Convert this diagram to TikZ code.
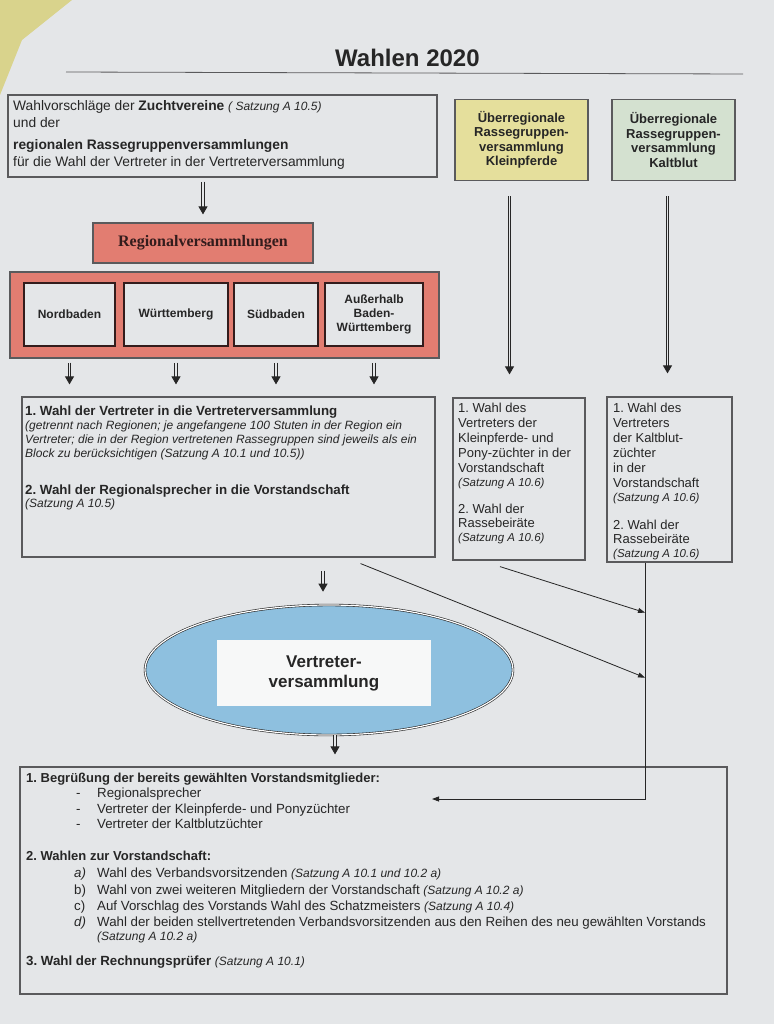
\documentclass[tikz,border=0pt]{standalone}
\usepackage{fontspec}
\setmainfont{Liberation Sans}
\newfontfamily\serifbold{Liberation Serif}
\usetikzlibrary{shapes.geometric,arrows.meta}
\frenchspacing

\definecolor{paper}{HTML}{E4E6E8}
\definecolor{tablecloth}{HTML}{D9D38C}
\definecolor{frame}{HTML}{5A5A5C}
\definecolor{ink}{HTML}{262626}
\definecolor{salmon}{HTML}{E27D71}
\definecolor{maroon}{HTML}{331C1C}
\definecolor{ponyyellow}{HTML}{E5DF9C}
\definecolor{coldgreen}{HTML}{D4E1D0}
\definecolor{assemblyblue}{HTML}{8EC0DF}

\newcommand{\satz}[2][11.5]{{\fontsize{#1}{14}\selectfont\itshape #2}}

\tikzset{%
  every box/.style={
    draw=frame,
    line width=1.2pt,
    inner sep=0pt
  },
  region box/.style={
    draw=maroon,
    line width=2.2pt,
    fill=paper,
    inner sep=0pt,
    minimum height=63pt,
    align=center,
    text=ink,
    font=\fontsize{12}{14}\selectfont\bfseries
  },
  box text/.style={
    anchor=north west,
    inner sep=0pt,
    align=left,
    text=ink
  },
  sheet text/.style={
    anchor=base west,
    inner sep=0pt,
    text=ink,
    font=\fontsize{13.3}{16}\selectfont
  },
  fat arrow/.style={
    draw=ink,
    line width=0.9pt,
    double=paper,
    double distance=1.5pt,
    -{Triangle[length=8pt,width=9pt]}
  },
  thin arrow/.style={
    draw=ink,
    line width=0.8pt,
    -{Triangle[length=7pt,width=5pt]}
  },
}

\begin{document}
\begin{tikzpicture}[x=1pt, y=-1pt]
\useasboundingbox (0,0) rectangle (774,1024);
\fill[paper] (0,0) rectangle (774,1024);
\fill[tablecloth] (0,0) -- (72,0) -- (22,40) -- (0,95) -- cycle;

% title
\node[anchor=base west, inner sep=0pt, text=ink, font=\fontsize{24}{28}\selectfont\bfseries] (title) at (335,67) {Wahlen 2020};
\draw[frame, line width=0.8pt] (66,72) -- (743,74);

% top row
\node[every box, minimum width=429pt, minimum height=82pt] (vorschlag) at (222.5,136) {};
\node[box text, font=\fontsize{13.8}{17}\selectfont] (vorschlag-text) at (13,100.3)
  {Wahlvorschläge der \textbf{Zuchtvereine} \satz[12]{( Satzung A 10.5)}\\
   und der\\[5pt]
   \textbf{regionalen Rassegruppenversammlungen}\\
   für die Wahl der Vertreter in der Vertreterversammlung};

\foreach \n/\x/\w/\c/\t in {klein/521.5/133/ponyyellow/Kleinpferde, kalt/673.5/123/coldgreen/Kaltblut}
  \node[every box, fill=\c, minimum width=\w pt, minimum height=81pt, align=center, text=ink,
        font=\fontsize{13}{14.5}\selectfont\bfseries] (\n) at (\x,140)
    {Überregionale\\Rassegruppen-\\versammlung\\\t};

% regions
\node[every box, fill=salmon, minimum width=220pt, minimum height=40pt, text=maroon,
      font=\serifbold\bfseries\fontsize{16}{19}\selectfont] (regio) at (203,243) {Regionalversammlungen};
\node[every box, fill=salmon, minimum width=429pt, minimum height=86pt] (redbox) at (224.5,315) {};

\foreach \r/\x/\w/\t in {nord/69.5/91/Nordbaden, wuert/176/104/Württemberg, sued/276/84/Südbaden, ausser/374/98/{Außerhalb\\Baden-\\Württemberg}}
  \node[region box, minimum width=\w pt] (\r) at (\x,314.5) {\t};

% elections
\node[every box, minimum width=413pt, minimum height=160pt] (wahlbox) at (228.5,477) {};
\node[box text, font=\fontsize{13.3}{14}\selectfont] (wahlbox-text) at (25,405.5)
  {\textbf{1. Wahl der Vertreter in die Vertreterversammlung}\\
   \satz[12]{(getrennt nach Regionen; je angefangene 100 Stuten in der Region ein}\\
   \satz[12]{Vertreter; die in der Region vertretenen Rassegruppen sind jeweils als ein}\\
   \satz[12]{Block zu berücksichtigen (Satzung A 10.1 und 10.5))}\\[23pt]
   \textbf{2. Wahl der Regionalsprecher in die Vorstandschaft}\\[-1pt]
   \satz[12]{(Satzung A 10.5)}};

\node[every box, minimum width=132pt, minimum height=162pt] (kleinwahl) at (519,479) {};
\node[box text, font=\fontsize{13}{15}\selectfont] (kleinwahl-text) at (458,402.7)
  {1. Wahl des\\Vertreters der\\Kleinpferde- und\\Pony-züchter in der\\Vorstandschaft\\[-1pt]
   \satz{(Satzung A 10.6)}\\[12pt]
   2. Wahl der\\[-1pt]Rassebeiräte\\[-1pt]\satz{(Satzung A 10.6)}};

\node[every box, minimum width=125pt, minimum height=165pt] (kaltwahl) at (669.5,479.5) {};
\node[box text, font=\fontsize{13}{15}\selectfont] (kaltwahl-text) at (613,402.7)
  {1. Wahl des\\Vertreters\\der Kaltblut-\\züchter\\in der\\Vorstandschaft\\[-1pt]
   \satz{(Satzung A 10.6)}\\[13pt]
   2. Wahl der\\[-1pt]Rassebeiräte\\[-1pt]\satz{(Satzung A 10.6)}};

% assembly
\node[ellipse, draw=ink, line width=0.6pt, double=white, double distance=1.2pt, fill=assemblyblue,
      minimum width=368pt, minimum height=130pt, inner sep=0pt] (vv) at (329,670) {};
\node[fill=white!70!paper, minimum width=214pt, minimum height=66pt, inner sep=0pt, align=center,
      text=ink, font=\fontsize{17}{20}\selectfont\bfseries] (vv-label) at (324,673) {Vertreter-\\versammlung};

% board
\node[every box, minimum width=707pt, minimum height=227pt] (bottom) at (373.5,880.5) {};
\node[sheet text, font=\fontsize{13}{16}\selectfont\bfseries] (gruss) at (26,782) {1. Begrüßung der bereits gewählten Vorstandsmitglieder:};
\foreach \y/\t [count=\i] in {797/Regionalsprecher, 813/Vertreter der Kleinpferde- und Ponyzüchter, 828/Vertreter der Kaltblutzüchter} {
  \node[sheet text] (dash-\i) at (76,\y) {-};
  \node[sheet text] (gruss-\i) at (97,\y) {\t};
}
\node[sheet text, font=\fontsize{13}{16}\selectfont\bfseries] (wahlen) at (26,860) {2. Wahlen zur Vorstandschaft:};
\foreach \y/\l/\t [count=\i] in {877/{\textit{a)}}/{Wahl des Verbandsvorsitzenden \satz[12]{(Satzung A 10.1 und 10.2 a)}},
    894/b)/{Wahl von zwei weiteren Mitgliedern der Vorstandschaft \satz[12]{(Satzung A 10.2 a)}},
    910/c)/{Auf Vorschlag des Vorstands Wahl des Schatzmeisters \satz[12]{(Satzung A 10.4)}},
    926/{\textit{d)}}/{Wahl der beiden stellvertretenden Verbandsvorsitzenden aus den Reihen des neu gewählten Vorstands}} {
  \node[sheet text] (item-\i) at (74,\y) {\l};
  \node[sheet text] (wahl-\i) at (97,\y) {\t};
}
\node[sheet text] (wahl-5) at (97,940) {\satz[12]{(Satzung A 10.2 a)}};
\node[sheet text] (pruefer) at (26,965) {\textbf{3. Wahl der Rechnungsprüfer} \satz[12]{(Satzung A 10.1)}};

% arrows
\draw[fat arrow, shorten <=4pt, shorten >=8pt] (vorschlag.south -| regio.north) -- (regio.north);
\foreach \r in {nord,wuert,sued,ausser}
  \draw[fat arrow, shorten <=4pt, shorten >=12pt] (\r |- redbox.south) -- (\r |- wahlbox.north);
\draw[fat arrow, shorten <=15pt, shorten >=23pt] ([xshift=-12pt]klein.south) -- ([xshift=-12pt]klein.south |- kleinwahl.north);
\draw[fat arrow, shorten <=15pt, shorten >=23pt] ([xshift=-6pt]kalt.south) -- ([xshift=-6pt]kalt.south |- kaltwahl.north);
\draw[fat arrow, shorten <=13pt, shorten >=13pt] ([xshift=-6pt]vv.north |- wahlbox.south) -- ([xshift=-6pt]vv.north);
\draw[fat arrow, shorten >=12pt] ([xshift=6pt]vv.south) -- ([xshift=6pt]vv.south |- bottom.north);

\coordinate (drop) at ([xshift=-24.5pt]kaltwahl.south);
\coordinate (hit-1) at ([yshift=-50pt]drop);
\coordinate (hit-2) at ([yshift=-115pt]drop);
\coordinate (greet) at (432,799);
\draw[thin arrow] ([xshift=-19pt,yshift=-6pt]kleinwahl.south) -- (hit-1);
\draw[thin arrow] ([xshift=-75pt,yshift=-6pt]wahlbox.south east) -- (hit-2);
\draw[thin arrow] (drop) |- (greet);

\end{tikzpicture}
\end{document}
